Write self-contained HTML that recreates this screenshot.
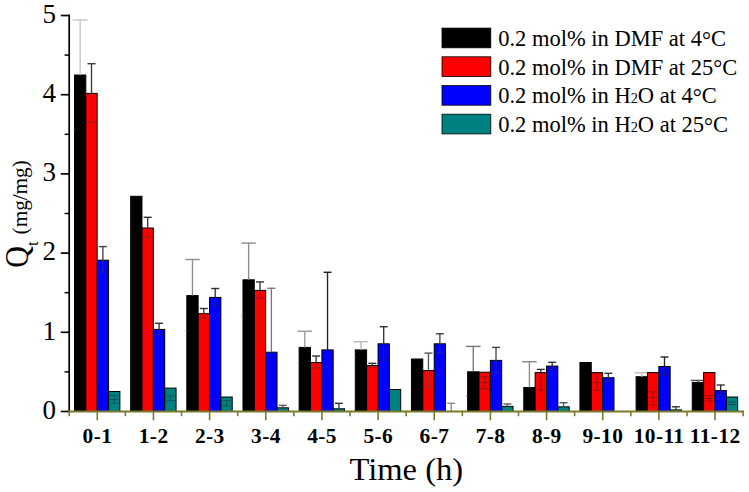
<!DOCTYPE html>
<html><head><meta charset="utf-8"><title>Chart</title>
<style>
html,body{margin:0;padding:0;background:#fff;}
body{width:749px;height:492px;overflow:hidden;}
svg{display:block;}
text{font-family:"Liberation Serif",serif;fill:#000;}
.tl{font-size:27px;}
.cl{font-size:21.4px;font-weight:bold;letter-spacing:0.4px;}
.xt{font-size:32.6px;}
.yt{font-size:30px;}
.ys{font-size:17px;}
.yu{font-size:21.2px;}
.lg{font-size:22.5px;}
.sub{font-size:14.3px;}
</style></head>
<body>
<svg width="749" height="492" viewBox="0 0 749 492">
<line x1="69.2" y1="14.6" x2="69.2" y2="412.3" stroke="#000" stroke-width="1.7"/>
<line x1="60.8" y1="411.50" x2="69.2" y2="411.50" stroke="#000" stroke-width="1.7"/>
<line x1="64.6" y1="371.90" x2="69.2" y2="371.90" stroke="#000" stroke-width="1.5"/>
<line x1="60.8" y1="332.30" x2="69.2" y2="332.30" stroke="#000" stroke-width="1.7"/>
<line x1="64.6" y1="292.70" x2="69.2" y2="292.70" stroke="#000" stroke-width="1.5"/>
<line x1="60.8" y1="253.10" x2="69.2" y2="253.10" stroke="#000" stroke-width="1.7"/>
<line x1="64.6" y1="213.50" x2="69.2" y2="213.50" stroke="#000" stroke-width="1.5"/>
<line x1="60.8" y1="173.90" x2="69.2" y2="173.90" stroke="#000" stroke-width="1.7"/>
<line x1="64.6" y1="134.30" x2="69.2" y2="134.30" stroke="#000" stroke-width="1.5"/>
<line x1="60.8" y1="94.70" x2="69.2" y2="94.70" stroke="#000" stroke-width="1.7"/>
<line x1="64.6" y1="55.10" x2="69.2" y2="55.10" stroke="#000" stroke-width="1.5"/>
<line x1="60.8" y1="15.50" x2="69.2" y2="15.50" stroke="#000" stroke-width="1.7"/>
<text x="55.9" y="418.80" text-anchor="end" class="tl">0</text>
<text x="55.9" y="339.60" text-anchor="end" class="tl">1</text>
<text x="55.9" y="260.40" text-anchor="end" class="tl">2</text>
<text x="55.9" y="181.20" text-anchor="end" class="tl">3</text>
<text x="55.9" y="102.00" text-anchor="end" class="tl">4</text>
<text x="55.9" y="22.80" text-anchor="end" class="tl">5</text>
<rect x="74.50" y="75.00" width="11.30" height="336.50" fill="#000000" stroke="#000" stroke-width="1"/>
<line x1="80.15" y1="20.00" x2="80.15" y2="75.00" stroke="#c4c4c4" stroke-width="1.35"/>
<line x1="72.90" y1="20.00" x2="87.40" y2="20.00" stroke="#c4c4c4" stroke-width="1.4"/>
<line x1="80.15" y1="75.00" x2="80.15" y2="129.50" stroke="#000" stroke-width="1.1" opacity="0.5"/>
<line x1="72.90" y1="129.50" x2="74.50" y2="129.50" stroke="#c4c4c4" stroke-width="1.4" opacity="0.8"/>
<rect x="130.66" y="196.30" width="11.30" height="215.20" fill="#000000" stroke="#000" stroke-width="1"/>
<rect x="186.82" y="295.60" width="11.30" height="115.90" fill="#000000" stroke="#000" stroke-width="1"/>
<line x1="192.47" y1="259.50" x2="192.47" y2="295.60" stroke="#8c8c8c" stroke-width="1.35"/>
<line x1="185.22" y1="259.50" x2="199.72" y2="259.50" stroke="#8c8c8c" stroke-width="1.4"/>
<line x1="192.47" y1="295.60" x2="192.47" y2="331.00" stroke="#000" stroke-width="1.1" opacity="0.5"/>
<line x1="185.22" y1="331.00" x2="186.82" y2="331.00" stroke="#8c8c8c" stroke-width="1.4" opacity="0.8"/>
<rect x="242.98" y="279.80" width="11.30" height="131.70" fill="#000000" stroke="#000" stroke-width="1"/>
<line x1="248.63" y1="243.10" x2="248.63" y2="279.80" stroke="#8c8c8c" stroke-width="1.35"/>
<line x1="241.38" y1="243.10" x2="255.88" y2="243.10" stroke="#8c8c8c" stroke-width="1.4"/>
<line x1="248.63" y1="279.80" x2="248.63" y2="315.70" stroke="#000" stroke-width="1.1" opacity="0.5"/>
<line x1="241.38" y1="315.70" x2="242.98" y2="315.70" stroke="#8c8c8c" stroke-width="1.4" opacity="0.8"/>
<rect x="299.14" y="347.40" width="11.30" height="64.10" fill="#000000" stroke="#000" stroke-width="1"/>
<line x1="304.79" y1="331.20" x2="304.79" y2="347.40" stroke="#9a9a9a" stroke-width="1.35"/>
<line x1="297.54" y1="331.20" x2="312.04" y2="331.20" stroke="#9a9a9a" stroke-width="1.4"/>
<line x1="304.79" y1="347.40" x2="304.79" y2="362.80" stroke="#000" stroke-width="1.1" opacity="0.5"/>
<line x1="297.54" y1="362.80" x2="299.14" y2="362.80" stroke="#9a9a9a" stroke-width="1.4" opacity="0.8"/>
<rect x="355.30" y="349.90" width="11.30" height="61.60" fill="#000000" stroke="#000" stroke-width="1"/>
<line x1="360.95" y1="341.70" x2="360.95" y2="349.90" stroke="#bbbbbb" stroke-width="1.35"/>
<line x1="353.70" y1="341.70" x2="368.20" y2="341.70" stroke="#bbbbbb" stroke-width="1.4"/>
<line x1="360.95" y1="349.90" x2="360.95" y2="357.30" stroke="#000" stroke-width="1.1" opacity="0.5"/>
<line x1="353.70" y1="357.30" x2="355.30" y2="357.30" stroke="#bbbbbb" stroke-width="1.4" opacity="0.8"/>
<rect x="411.46" y="359.00" width="11.30" height="52.50" fill="#000000" stroke="#000" stroke-width="1"/>
<rect x="467.62" y="371.80" width="11.30" height="39.70" fill="#000000" stroke="#000" stroke-width="1"/>
<line x1="473.27" y1="346.40" x2="473.27" y2="371.80" stroke="#777" stroke-width="1.35"/>
<line x1="466.02" y1="346.40" x2="480.52" y2="346.40" stroke="#777" stroke-width="1.4"/>
<line x1="473.27" y1="371.80" x2="473.27" y2="396.40" stroke="#000" stroke-width="1.1" opacity="0.5"/>
<line x1="466.02" y1="396.40" x2="467.62" y2="396.40" stroke="#777" stroke-width="1.4" opacity="0.8"/>
<rect x="523.78" y="387.50" width="11.30" height="24.00" fill="#000000" stroke="#000" stroke-width="1"/>
<line x1="529.43" y1="361.70" x2="529.43" y2="387.50" stroke="#8a8a8a" stroke-width="1.35"/>
<line x1="522.18" y1="361.70" x2="536.68" y2="361.70" stroke="#8a8a8a" stroke-width="1.4"/>
<rect x="579.94" y="362.50" width="11.30" height="49.00" fill="#000000" stroke="#000" stroke-width="1"/>
<rect x="636.10" y="376.70" width="11.30" height="34.80" fill="#000000" stroke="#000" stroke-width="1"/>
<line x1="641.75" y1="372.80" x2="641.75" y2="376.70" stroke="#bbbbbb" stroke-width="1.35"/>
<line x1="634.50" y1="372.80" x2="649.00" y2="372.80" stroke="#bbbbbb" stroke-width="1.4"/>
<rect x="692.26" y="382.40" width="11.30" height="29.10" fill="#000000" stroke="#000" stroke-width="1"/>
<line x1="697.91" y1="380.40" x2="697.91" y2="382.40" stroke="#555" stroke-width="1.35"/>
<line x1="690.66" y1="380.40" x2="705.16" y2="380.40" stroke="#555" stroke-width="1.4"/>
<rect x="85.85" y="93.40" width="11.30" height="318.10" fill="#ff0000" stroke="#000" stroke-width="1"/>
<line x1="91.50" y1="63.70" x2="91.50" y2="93.40" stroke="#3a3a3a" stroke-width="1.35"/>
<line x1="87.50" y1="63.70" x2="95.50" y2="63.70" stroke="#3a3a3a" stroke-width="1.4"/>
<line x1="91.50" y1="93.40" x2="91.50" y2="122.20" stroke="#3a3a3a" stroke-width="1.1" opacity="0.5"/>
<line x1="87.50" y1="122.20" x2="95.50" y2="122.20" stroke="#3a3a3a" stroke-width="1.1" opacity="0.5"/>
<rect x="142.01" y="228.00" width="11.30" height="183.50" fill="#ff0000" stroke="#000" stroke-width="1"/>
<line x1="147.66" y1="217.30" x2="147.66" y2="228.00" stroke="#333" stroke-width="1.35"/>
<line x1="143.66" y1="217.30" x2="151.66" y2="217.30" stroke="#333" stroke-width="1.4"/>
<line x1="147.66" y1="228.00" x2="147.66" y2="237.30" stroke="#333" stroke-width="1.1" opacity="0.5"/>
<line x1="143.66" y1="237.30" x2="151.66" y2="237.30" stroke="#333" stroke-width="1.1" opacity="0.5"/>
<rect x="198.17" y="313.70" width="11.30" height="97.80" fill="#ff0000" stroke="#000" stroke-width="1"/>
<line x1="203.82" y1="308.50" x2="203.82" y2="313.70" stroke="#333" stroke-width="1.35"/>
<line x1="199.82" y1="308.50" x2="207.82" y2="308.50" stroke="#333" stroke-width="1.4"/>
<line x1="203.82" y1="313.70" x2="203.82" y2="318.00" stroke="#333" stroke-width="1.1" opacity="0.5"/>
<line x1="199.82" y1="318.00" x2="207.82" y2="318.00" stroke="#333" stroke-width="1.1" opacity="0.5"/>
<rect x="254.33" y="290.40" width="11.30" height="121.10" fill="#ff0000" stroke="#000" stroke-width="1"/>
<line x1="259.98" y1="281.90" x2="259.98" y2="290.40" stroke="#333" stroke-width="1.35"/>
<line x1="255.98" y1="281.90" x2="263.98" y2="281.90" stroke="#333" stroke-width="1.4"/>
<line x1="259.98" y1="290.40" x2="259.98" y2="298.10" stroke="#333" stroke-width="1.1" opacity="0.5"/>
<line x1="255.98" y1="298.10" x2="263.98" y2="298.10" stroke="#333" stroke-width="1.1" opacity="0.5"/>
<rect x="310.49" y="362.50" width="11.30" height="49.00" fill="#ff0000" stroke="#000" stroke-width="1"/>
<line x1="316.14" y1="356.00" x2="316.14" y2="362.50" stroke="#333" stroke-width="1.35"/>
<line x1="312.14" y1="356.00" x2="320.14" y2="356.00" stroke="#333" stroke-width="1.4"/>
<line x1="316.14" y1="362.50" x2="316.14" y2="368.00" stroke="#333" stroke-width="1.1" opacity="0.5"/>
<line x1="312.14" y1="368.00" x2="320.14" y2="368.00" stroke="#333" stroke-width="1.1" opacity="0.5"/>
<rect x="366.65" y="365.50" width="11.30" height="46.00" fill="#ff0000" stroke="#000" stroke-width="1"/>
<line x1="372.30" y1="363.30" x2="372.30" y2="365.50" stroke="#333" stroke-width="1.35"/>
<line x1="368.30" y1="363.30" x2="376.30" y2="363.30" stroke="#333" stroke-width="1.4"/>
<line x1="372.30" y1="365.50" x2="372.30" y2="366.90" stroke="#333" stroke-width="1.1" opacity="0.5"/>
<line x1="368.30" y1="366.90" x2="376.30" y2="366.90" stroke="#333" stroke-width="1.1" opacity="0.5"/>
<rect x="422.81" y="370.60" width="11.30" height="40.90" fill="#ff0000" stroke="#000" stroke-width="1"/>
<line x1="428.46" y1="353.10" x2="428.46" y2="370.60" stroke="#555" stroke-width="1.35"/>
<line x1="424.46" y1="353.10" x2="432.46" y2="353.10" stroke="#555" stroke-width="1.4"/>
<line x1="428.46" y1="370.60" x2="428.46" y2="387.30" stroke="#555" stroke-width="1.1" opacity="0.5"/>
<line x1="424.46" y1="387.30" x2="432.46" y2="387.30" stroke="#555" stroke-width="1.1" opacity="0.5"/>
<rect x="478.97" y="372.20" width="11.30" height="39.30" fill="#ff0000" stroke="#000" stroke-width="1"/>
<line x1="484.62" y1="376.80" x2="484.62" y2="388.90" stroke="#222" stroke-width="1" opacity="0.4"/>
<line x1="480.62" y1="376.80" x2="488.62" y2="376.80" stroke="#222" stroke-width="1" opacity="0.45"/>
<line x1="480.62" y1="382.40" x2="488.62" y2="382.40" stroke="#222" stroke-width="1" opacity="0.45"/>
<line x1="480.62" y1="388.90" x2="488.62" y2="388.90" stroke="#222" stroke-width="1" opacity="0.45"/>
<rect x="535.13" y="372.60" width="11.30" height="38.90" fill="#ff0000" stroke="#000" stroke-width="1"/>
<line x1="540.78" y1="369.40" x2="540.78" y2="372.60" stroke="#333" stroke-width="1.35"/>
<line x1="536.78" y1="369.40" x2="544.78" y2="369.40" stroke="#333" stroke-width="1.4"/>
<line x1="540.78" y1="372.80" x2="540.78" y2="390.10" stroke="#222" stroke-width="1" opacity="0.4"/>
<line x1="536.78" y1="372.80" x2="544.78" y2="372.80" stroke="#222" stroke-width="1" opacity="0.45"/>
<line x1="536.78" y1="390.10" x2="544.78" y2="390.10" stroke="#222" stroke-width="1" opacity="0.45"/>
<rect x="591.29" y="372.60" width="11.30" height="38.90" fill="#ff0000" stroke="#000" stroke-width="1"/>
<line x1="596.94" y1="372.80" x2="596.94" y2="390.20" stroke="#222" stroke-width="1" opacity="0.4"/>
<line x1="592.94" y1="372.80" x2="600.94" y2="372.80" stroke="#222" stroke-width="1" opacity="0.45"/>
<line x1="592.94" y1="382.40" x2="600.94" y2="382.40" stroke="#222" stroke-width="1" opacity="0.45"/>
<line x1="592.94" y1="390.20" x2="600.94" y2="390.20" stroke="#222" stroke-width="1" opacity="0.45"/>
<rect x="647.45" y="372.60" width="11.30" height="38.90" fill="#ff0000" stroke="#000" stroke-width="1"/>
<line x1="653.10" y1="391.90" x2="653.10" y2="405.10" stroke="#222" stroke-width="1" opacity="0.4"/>
<line x1="649.10" y1="391.90" x2="657.10" y2="391.90" stroke="#222" stroke-width="1" opacity="0.45"/>
<line x1="649.10" y1="397.50" x2="657.10" y2="397.50" stroke="#222" stroke-width="1" opacity="0.45"/>
<line x1="649.10" y1="405.10" x2="657.10" y2="405.10" stroke="#222" stroke-width="1" opacity="0.45"/>
<rect x="703.61" y="372.60" width="11.30" height="38.90" fill="#ff0000" stroke="#000" stroke-width="1"/>
<line x1="709.26" y1="395.50" x2="709.26" y2="401.10" stroke="#222" stroke-width="1" opacity="0.4"/>
<line x1="705.26" y1="395.50" x2="713.26" y2="395.50" stroke="#222" stroke-width="1" opacity="0.45"/>
<line x1="705.26" y1="398.50" x2="713.26" y2="398.50" stroke="#222" stroke-width="1" opacity="0.45"/>
<line x1="705.26" y1="401.10" x2="713.26" y2="401.10" stroke="#222" stroke-width="1" opacity="0.45"/>
<rect x="97.25" y="260.20" width="11.30" height="151.30" fill="#0000ff" stroke="#000" stroke-width="1"/>
<line x1="102.90" y1="246.60" x2="102.90" y2="260.20" stroke="#444" stroke-width="1.35"/>
<line x1="98.90" y1="246.60" x2="106.90" y2="246.60" stroke="#444" stroke-width="1.4"/>
<line x1="102.90" y1="260.20" x2="102.90" y2="272.00" stroke="#444" stroke-width="1.1" opacity="0.5"/>
<line x1="98.90" y1="272.00" x2="106.90" y2="272.00" stroke="#444" stroke-width="1.1" opacity="0.5"/>
<rect x="153.41" y="329.40" width="11.30" height="82.10" fill="#0000ff" stroke="#000" stroke-width="1"/>
<line x1="159.06" y1="323.30" x2="159.06" y2="329.40" stroke="#333" stroke-width="1.35"/>
<line x1="155.06" y1="323.30" x2="163.06" y2="323.30" stroke="#333" stroke-width="1.4"/>
<line x1="159.06" y1="329.40" x2="159.06" y2="334.50" stroke="#333" stroke-width="1.1" opacity="0.5"/>
<line x1="155.06" y1="334.50" x2="163.06" y2="334.50" stroke="#333" stroke-width="1.1" opacity="0.5"/>
<rect x="209.57" y="297.40" width="11.30" height="114.10" fill="#0000ff" stroke="#000" stroke-width="1"/>
<line x1="215.22" y1="288.50" x2="215.22" y2="297.40" stroke="#333" stroke-width="1.35"/>
<line x1="211.22" y1="288.50" x2="219.22" y2="288.50" stroke="#333" stroke-width="1.4"/>
<line x1="215.22" y1="297.40" x2="215.22" y2="305.50" stroke="#333" stroke-width="1.1" opacity="0.5"/>
<line x1="211.22" y1="305.50" x2="219.22" y2="305.50" stroke="#333" stroke-width="1.1" opacity="0.5"/>
<rect x="265.73" y="352.20" width="11.30" height="59.30" fill="#0000ff" stroke="#000" stroke-width="1"/>
<line x1="271.38" y1="288.30" x2="271.38" y2="352.20" stroke="#7a7a7a" stroke-width="1.35"/>
<line x1="267.38" y1="288.30" x2="275.38" y2="288.30" stroke="#7a7a7a" stroke-width="1.4"/>
<rect x="321.89" y="349.90" width="11.30" height="61.60" fill="#0000ff" stroke="#000" stroke-width="1"/>
<line x1="327.54" y1="272.30" x2="327.54" y2="349.90" stroke="#222" stroke-width="1.35"/>
<line x1="323.54" y1="272.30" x2="331.54" y2="272.30" stroke="#222" stroke-width="1.4"/>
<rect x="378.05" y="343.80" width="11.30" height="67.70" fill="#0000ff" stroke="#000" stroke-width="1"/>
<line x1="383.70" y1="326.70" x2="383.70" y2="343.80" stroke="#333" stroke-width="1.35"/>
<line x1="379.70" y1="326.70" x2="387.70" y2="326.70" stroke="#333" stroke-width="1.4"/>
<line x1="383.70" y1="343.80" x2="383.70" y2="360.10" stroke="#333" stroke-width="1.1" opacity="0.5"/>
<line x1="379.70" y1="360.10" x2="387.70" y2="360.10" stroke="#333" stroke-width="1.1" opacity="0.5"/>
<rect x="434.21" y="343.80" width="11.30" height="67.70" fill="#0000ff" stroke="#000" stroke-width="1"/>
<line x1="439.86" y1="333.80" x2="439.86" y2="343.80" stroke="#444" stroke-width="1.35"/>
<line x1="435.86" y1="333.80" x2="443.86" y2="333.80" stroke="#444" stroke-width="1.4"/>
<line x1="439.86" y1="343.80" x2="439.86" y2="353.00" stroke="#444" stroke-width="1.1" opacity="0.5"/>
<line x1="435.86" y1="353.00" x2="443.86" y2="353.00" stroke="#444" stroke-width="1.1" opacity="0.5"/>
<rect x="490.37" y="360.40" width="11.30" height="51.10" fill="#0000ff" stroke="#000" stroke-width="1"/>
<line x1="496.02" y1="347.40" x2="496.02" y2="360.40" stroke="#444" stroke-width="1.35"/>
<line x1="492.02" y1="347.40" x2="500.02" y2="347.40" stroke="#444" stroke-width="1.4"/>
<line x1="496.02" y1="360.40" x2="496.02" y2="372.60" stroke="#444" stroke-width="1.1" opacity="0.5"/>
<line x1="492.02" y1="372.60" x2="500.02" y2="372.60" stroke="#444" stroke-width="1.1" opacity="0.5"/>
<rect x="546.53" y="366.10" width="11.30" height="45.40" fill="#0000ff" stroke="#000" stroke-width="1"/>
<line x1="552.18" y1="362.30" x2="552.18" y2="366.10" stroke="#333" stroke-width="1.35"/>
<line x1="548.18" y1="362.30" x2="556.18" y2="362.30" stroke="#333" stroke-width="1.4"/>
<line x1="552.18" y1="366.10" x2="552.18" y2="369.10" stroke="#333" stroke-width="1.1" opacity="0.5"/>
<line x1="548.18" y1="369.10" x2="556.18" y2="369.10" stroke="#333" stroke-width="1.1" opacity="0.5"/>
<rect x="602.69" y="377.70" width="11.30" height="33.80" fill="#0000ff" stroke="#000" stroke-width="1"/>
<line x1="608.34" y1="373.30" x2="608.34" y2="377.70" stroke="#333" stroke-width="1.35"/>
<line x1="604.34" y1="373.30" x2="612.34" y2="373.30" stroke="#333" stroke-width="1.4"/>
<line x1="608.34" y1="377.70" x2="608.34" y2="381.30" stroke="#333" stroke-width="1.1" opacity="0.5"/>
<line x1="604.34" y1="381.30" x2="612.34" y2="381.30" stroke="#333" stroke-width="1.1" opacity="0.5"/>
<rect x="658.85" y="366.50" width="11.30" height="45.00" fill="#0000ff" stroke="#000" stroke-width="1"/>
<line x1="664.50" y1="357.00" x2="664.50" y2="366.50" stroke="#222" stroke-width="1.35"/>
<line x1="660.50" y1="357.00" x2="668.50" y2="357.00" stroke="#222" stroke-width="1.4"/>
<line x1="664.50" y1="366.50" x2="664.50" y2="375.20" stroke="#222" stroke-width="1.1" opacity="0.5"/>
<line x1="660.50" y1="375.20" x2="668.50" y2="375.20" stroke="#222" stroke-width="1.1" opacity="0.5"/>
<rect x="715.01" y="390.50" width="11.30" height="21.00" fill="#0000ff" stroke="#000" stroke-width="1"/>
<line x1="720.66" y1="385.00" x2="720.66" y2="390.50" stroke="#333" stroke-width="1.35"/>
<line x1="716.66" y1="385.00" x2="724.66" y2="385.00" stroke="#333" stroke-width="1.4"/>
<line x1="720.66" y1="390.50" x2="720.66" y2="395.20" stroke="#333" stroke-width="1.1" opacity="0.5"/>
<line x1="716.66" y1="395.20" x2="724.66" y2="395.20" stroke="#333" stroke-width="1.1" opacity="0.5"/>
<rect x="108.60" y="391.50" width="11.30" height="20.00" fill="#008080" stroke="#000" stroke-width="1"/>
<line x1="114.25" y1="395.40" x2="114.25" y2="403.30" stroke="#222" stroke-width="1" opacity="0.4"/>
<line x1="110.25" y1="395.40" x2="118.25" y2="395.40" stroke="#222" stroke-width="1" opacity="0.45"/>
<line x1="110.25" y1="399.50" x2="118.25" y2="399.50" stroke="#222" stroke-width="1" opacity="0.45"/>
<line x1="110.25" y1="403.30" x2="118.25" y2="403.30" stroke="#222" stroke-width="1" opacity="0.45"/>
<rect x="164.76" y="388.10" width="11.30" height="23.40" fill="#008080" stroke="#000" stroke-width="1"/>
<line x1="170.41" y1="396.10" x2="170.41" y2="400.60" stroke="#222" stroke-width="1" opacity="0.4"/>
<line x1="166.41" y1="396.10" x2="174.41" y2="396.10" stroke="#222" stroke-width="1" opacity="0.45"/>
<line x1="166.41" y1="400.60" x2="174.41" y2="400.60" stroke="#222" stroke-width="1" opacity="0.45"/>
<rect x="220.92" y="397.00" width="11.30" height="14.50" fill="#008080" stroke="#000" stroke-width="1"/>
<line x1="226.57" y1="400.50" x2="226.57" y2="406.00" stroke="#222" stroke-width="1" opacity="0.4"/>
<line x1="222.57" y1="400.50" x2="230.57" y2="400.50" stroke="#222" stroke-width="1" opacity="0.45"/>
<line x1="222.57" y1="406.00" x2="230.57" y2="406.00" stroke="#222" stroke-width="1" opacity="0.45"/>
<rect x="277.08" y="407.80" width="11.30" height="3.70" fill="#008080" stroke="#000" stroke-width="1"/>
<line x1="282.73" y1="405.40" x2="282.73" y2="407.80" stroke="#555" stroke-width="1.35"/>
<line x1="278.73" y1="405.40" x2="286.73" y2="405.40" stroke="#555" stroke-width="1.4"/>
<rect x="333.24" y="408.80" width="11.30" height="2.70" fill="#008080" stroke="#000" stroke-width="1"/>
<line x1="338.89" y1="403.30" x2="338.89" y2="408.80" stroke="#333" stroke-width="1.35"/>
<line x1="334.89" y1="403.30" x2="342.89" y2="403.30" stroke="#333" stroke-width="1.4"/>
<rect x="389.40" y="389.50" width="11.30" height="22.00" fill="#008080" stroke="#000" stroke-width="1"/>
<line x1="451.21" y1="403.30" x2="451.21" y2="411.50" stroke="#8a8a8a" stroke-width="1.35"/>
<line x1="447.21" y1="403.30" x2="455.21" y2="403.30" stroke="#8a8a8a" stroke-width="1.4"/>
<rect x="501.72" y="406.40" width="11.30" height="5.10" fill="#008080" stroke="#000" stroke-width="1"/>
<line x1="507.37" y1="404.00" x2="507.37" y2="406.40" stroke="#555" stroke-width="1.35"/>
<line x1="503.37" y1="404.00" x2="511.37" y2="404.00" stroke="#555" stroke-width="1.4"/>
<rect x="557.88" y="406.80" width="11.30" height="4.70" fill="#008080" stroke="#000" stroke-width="1"/>
<line x1="563.53" y1="402.70" x2="563.53" y2="406.80" stroke="#555" stroke-width="1.35"/>
<line x1="559.53" y1="402.70" x2="567.53" y2="402.70" stroke="#555" stroke-width="1.4"/>
<rect x="670.20" y="409.90" width="11.30" height="1.60" fill="#008080" stroke="#000" stroke-width="1"/>
<line x1="675.85" y1="406.80" x2="675.85" y2="409.90" stroke="#333" stroke-width="1.35"/>
<line x1="671.85" y1="406.80" x2="679.85" y2="406.80" stroke="#333" stroke-width="1.4"/>
<rect x="726.36" y="397.00" width="11.30" height="14.50" fill="#008080" stroke="#000" stroke-width="1"/>
<line x1="732.01" y1="402.10" x2="732.01" y2="404.60" stroke="#222" stroke-width="1" opacity="0.4"/>
<line x1="728.01" y1="402.10" x2="736.01" y2="402.10" stroke="#222" stroke-width="1" opacity="0.45"/>
<line x1="728.01" y1="404.60" x2="736.01" y2="404.60" stroke="#222" stroke-width="1" opacity="0.45"/>
<line x1="68.40" y1="411.50" x2="743.92" y2="411.50" stroke="#7a7a2c" stroke-width="1.8"/>
<line x1="69.20" y1="411.50" x2="69.20" y2="416.2" stroke="#7a7a2c" stroke-width="1.6"/>
<line x1="125.36" y1="411.50" x2="125.36" y2="416.2" stroke="#7a7a2c" stroke-width="1.6"/>
<line x1="181.52" y1="411.50" x2="181.52" y2="416.2" stroke="#7a7a2c" stroke-width="1.6"/>
<line x1="237.68" y1="411.50" x2="237.68" y2="416.2" stroke="#7a7a2c" stroke-width="1.6"/>
<line x1="293.84" y1="411.50" x2="293.84" y2="416.2" stroke="#7a7a2c" stroke-width="1.6"/>
<line x1="350.00" y1="411.50" x2="350.00" y2="416.2" stroke="#7a7a2c" stroke-width="1.6"/>
<line x1="406.16" y1="411.50" x2="406.16" y2="416.2" stroke="#7a7a2c" stroke-width="1.6"/>
<line x1="462.32" y1="411.50" x2="462.32" y2="416.2" stroke="#7a7a2c" stroke-width="1.6"/>
<line x1="518.48" y1="411.50" x2="518.48" y2="416.2" stroke="#7a7a2c" stroke-width="1.6"/>
<line x1="574.64" y1="411.50" x2="574.64" y2="416.2" stroke="#7a7a2c" stroke-width="1.6"/>
<line x1="630.80" y1="411.50" x2="630.80" y2="416.2" stroke="#7a7a2c" stroke-width="1.6"/>
<line x1="686.96" y1="411.50" x2="686.96" y2="416.2" stroke="#7a7a2c" stroke-width="1.6"/>
<line x1="743.12" y1="411.50" x2="743.12" y2="416.2" stroke="#7a7a2c" stroke-width="1.6"/>
<line x1="97.28" y1="411.50" x2="97.28" y2="420.3" stroke="#7a7a2c" stroke-width="1.6"/>
<line x1="153.44" y1="411.50" x2="153.44" y2="420.3" stroke="#7a7a2c" stroke-width="1.6"/>
<line x1="209.60" y1="411.50" x2="209.60" y2="420.3" stroke="#7a7a2c" stroke-width="1.6"/>
<line x1="265.76" y1="411.50" x2="265.76" y2="420.3" stroke="#7a7a2c" stroke-width="1.6"/>
<line x1="321.92" y1="411.50" x2="321.92" y2="420.3" stroke="#7a7a2c" stroke-width="1.6"/>
<line x1="378.08" y1="411.50" x2="378.08" y2="420.3" stroke="#7a7a2c" stroke-width="1.6"/>
<line x1="434.24" y1="411.50" x2="434.24" y2="420.3" stroke="#7a7a2c" stroke-width="1.6"/>
<line x1="490.40" y1="411.50" x2="490.40" y2="420.3" stroke="#7a7a2c" stroke-width="1.6"/>
<line x1="546.56" y1="411.50" x2="546.56" y2="420.3" stroke="#7a7a2c" stroke-width="1.6"/>
<line x1="602.72" y1="411.50" x2="602.72" y2="420.3" stroke="#7a7a2c" stroke-width="1.6"/>
<line x1="658.88" y1="411.50" x2="658.88" y2="420.3" stroke="#7a7a2c" stroke-width="1.6"/>
<line x1="715.04" y1="411.50" x2="715.04" y2="420.3" stroke="#7a7a2c" stroke-width="1.6"/>
<text x="97.48" y="443" text-anchor="middle" class="cl">0-1</text>
<text x="153.64" y="443" text-anchor="middle" class="cl">1-2</text>
<text x="209.80" y="443" text-anchor="middle" class="cl">2-3</text>
<text x="265.96" y="443" text-anchor="middle" class="cl">3-4</text>
<text x="322.12" y="443" text-anchor="middle" class="cl">4-5</text>
<text x="378.28" y="443" text-anchor="middle" class="cl">5-6</text>
<text x="434.44" y="443" text-anchor="middle" class="cl">6-7</text>
<text x="490.60" y="443" text-anchor="middle" class="cl">7-8</text>
<text x="546.76" y="443" text-anchor="middle" class="cl">8-9</text>
<text x="602.92" y="443" text-anchor="middle" class="cl">9-10</text>
<text x="659.08" y="443" text-anchor="middle" class="cl">10-11</text>
<text x="715.24" y="443" text-anchor="middle" class="cl">11-12</text>
<text x="406.3" y="480.2" text-anchor="middle" class="xt">Time (h)</text>
<text transform="translate(27.6,267.8) rotate(-90) scale(1,1.14)" class="yt">Q</text>
<text transform="translate(38,245.9) rotate(-90)" class="ys">t</text>
<text transform="translate(26.9,234.4) rotate(-90)" class="yu">(mg/mg)</text>
<rect x="442" y="28.10" width="48.8" height="19.7" fill="#000000" stroke="#000" stroke-width="0.8"/>
<text x="498.2" y="46.00" class="lg">0.2 mol% in DMF at 4<tspan dy="1.6">°</tspan><tspan dy="-1.6">C</tspan></text>
<rect x="442" y="56.80" width="48.8" height="19.7" fill="#ff0000" stroke="#000" stroke-width="0.8"/>
<text x="498.2" y="74.70" class="lg">0.2 mol% in DMF at 25<tspan dy="1.6">°</tspan><tspan dy="-1.6">C</tspan></text>
<rect x="442" y="85.50" width="48.8" height="19.7" fill="#0000ff" stroke="#000" stroke-width="0.8"/>
<text x="498.2" y="103.40" class="lg">0.2 mol% in H<tspan class="sub">2</tspan>O at 4<tspan dy="1.6">°</tspan><tspan dy="-1.6">C</tspan></text>
<rect x="442" y="114.20" width="48.8" height="19.7" fill="#008080" stroke="#000" stroke-width="0.8"/>
<text x="498.2" y="132.10" class="lg">0.2 mol% in H<tspan class="sub">2</tspan>O at 25<tspan dy="1.6">°</tspan><tspan dy="-1.6">C</tspan></text>
</svg>
</body></html>
